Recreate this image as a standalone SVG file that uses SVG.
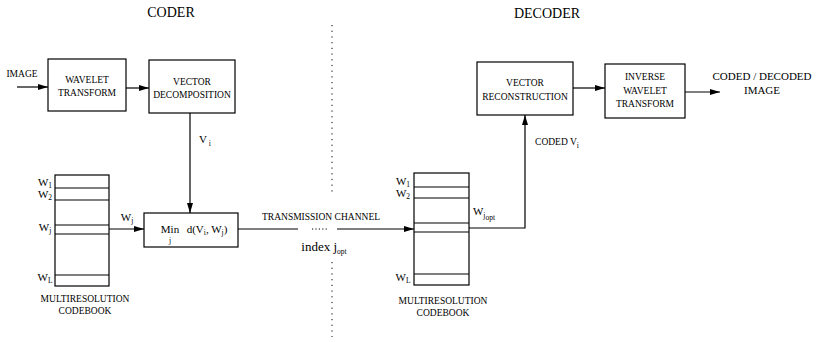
<svg xmlns="http://www.w3.org/2000/svg" width="834" height="342" viewBox="0 0 834 342" font-family="'Liberation Serif', 'DejaVu Serif', serif">
<defs>
<marker id="ah" markerWidth="10" markerHeight="6" refX="10" refY="3" orient="auto" markerUnits="userSpaceOnUse">
<path d="M0,0 L10,3 L0,6 Z" fill="#000"/>
</marker>
<style>
.box{fill:#fff;stroke:#000;stroke-width:1.2}
.ln{fill:none;stroke:#000;stroke-width:1.2}
text{font-family:'Liberation Serif','DejaVu Serif',serif;fill:#000}
.t{text-anchor:middle}
.s{font-size:9.5px}
.m{font-size:11px}
.h{font-size:14px}
.sub{font-size:7.5px}
</style>
</defs>
<rect width="834" height="342" fill="#fff"/>

<text class="t h" x="171" y="17">CODER</text>
<text class="t h" x="547" y="18">DECODER</text>

<g id="divider"><line x1="332" y1="25" x2="332" y2="196" stroke="#000" stroke-width="1" stroke-dasharray="1.2,4.5"/><line x1="332" y1="262" x2="332" y2="337" stroke="#000" stroke-width="1" stroke-dasharray="1.2,4.5"/></g>

<g id="input"><text class="t s" x="22" y="77">IMAGE</text></g>

<g id="wavelet"><rect class="box" x="48" y="59" width="78" height="52"/><text class="t s" x="87" y="83">WAVELET</text><text class="t s" x="87" y="96">TRANSFORM</text></g>

<g id="vecdec"><rect class="box" x="149" y="60" width="86" height="53"/><text class="t s" x="192" y="85">VECTOR</text><text class="t s" x="192" y="98">DECOMPOSITION</text></g>

<g id="codebook1"><rect class="box" x="55" y="175" width="54" height="111"/>
<line class="ln" x1="55" y1="188" x2="109" y2="188"/><line class="ln" x1="55" y1="200" x2="109" y2="200"/><line class="ln" x1="55" y1="225" x2="109" y2="225"/><line class="ln" x1="55" y1="234" x2="109" y2="234"/><line class="ln" x1="55" y1="275" x2="109" y2="275"/>
<text class="t m" x="45" y="186">W<tspan class="sub" dy="2">1</tspan></text>
<text class="t m" x="45" y="198">W<tspan class="sub" dy="2">2</tspan></text>
<text class="t m" x="45" y="231">W<tspan class="sub" dy="2">j</tspan></text>
<text class="t m" x="45" y="281">W<tspan class="sub" dy="2">L</tspan></text>
<text class="t s" x="85" y="302">MULTIRESOLUTION</text><text class="t s" x="85" y="314">CODEBOOK</text></g>

<g id="minbox"><rect class="box" x="144" y="213" width="94" height="34"/>
<text class="t m" x="170" y="233">Min</text><text class="t sub" x="170" y="243">j</text>
<text class="t m" x="207" y="233">d(V<tspan class="sub" dy="2">i</tspan><tspan dy="-2">, W</tspan><tspan class="sub" dy="2">j</tspan><tspan dy="-2">)</tspan></text></g>

<g id="vecrec"><rect class="box" x="477" y="62" width="96" height="53"/><text class="t s" x="525" y="86">VECTOR</text><text class="t s" x="525" y="100">RECONSTRUCTION</text></g>

<g id="iwt"><rect class="box" x="605" y="64" width="80" height="54"/><text class="t s" x="645" y="80">INVERSE</text><text class="t s" x="645" y="94">WAVELET</text><text class="t s" x="645" y="107">TRANSFORM</text></g>

<g id="output"><text class="t m" x="762" y="80">CODED / DECODED</text><text class="t m" x="762" y="94">IMAGE</text></g>

<g id="codebook2"><rect class="box" x="414" y="173" width="55" height="112"/>
<line class="ln" x1="414" y1="187" x2="469" y2="187"/><line class="ln" x1="414" y1="198" x2="469" y2="198"/><line class="ln" x1="414" y1="223" x2="469" y2="223"/><line class="ln" x1="414" y1="232" x2="469" y2="232"/><line class="ln" x1="414" y1="274" x2="469" y2="274"/>
<text class="t m" x="403" y="185">W<tspan class="sub" dy="2">1</tspan></text>
<text class="t m" x="403" y="197">W<tspan class="sub" dy="2">2</tspan></text>
<text class="t m" x="403" y="281">W<tspan class="sub" dy="2">L</tspan></text>
<text class="t s" x="443" y="304">MULTIRESOLUTION</text><text class="t s" x="443" y="316">CODEBOOK</text></g>

<g id="connectors">
<line class="ln" x1="17" y1="87" x2="48" y2="87" marker-end="url(#ah)"/>
<line class="ln" x1="126" y1="88" x2="149" y2="88" marker-end="url(#ah)"/>
<line class="ln" x1="190" y1="113" x2="190" y2="213" marker-end="url(#ah)"/>
<line class="ln" x1="109" y1="229" x2="144" y2="229" marker-end="url(#ah)"/>
<line class="ln" x1="238" y1="229" x2="298" y2="229"/>
<line x1="312" y1="229" x2="329" y2="229" stroke="#000" stroke-width="1" stroke-dasharray="1.2,2.2"/>
<line class="ln" x1="337" y1="229" x2="414" y2="229" marker-end="url(#ah)"/>
<polyline class="ln" points="469,228 525,228 525,115" marker-end="url(#ah)"/>
<line class="ln" x1="573" y1="88" x2="605" y2="88" marker-end="url(#ah)"/>
<line class="ln" x1="685" y1="92" x2="720" y2="92" marker-end="url(#ah)"/>
<text class="t m" x="205" y="143">V<tspan class="sub" dy="3"> i</tspan></text>
<text class="t m" x="127" y="221">W<tspan class="sub" dy="2">j</tspan></text>
<text class="t s" x="321" y="220">TRANSMISSION CHANNEL</text>
<text class="t" font-size="13" x="324" y="251">index j<tspan class="sub" dy="3">opt</tspan></text>
<text class="t s" x="557" y="145">CODED V<tspan class="sub" dy="3">i</tspan></text>
<text class="t m" x="484" y="215">W<tspan class="sub" dy="3">j</tspan><tspan class="sub" font-size="6" dy="2">opt</tspan></text>
</g>
</svg>
